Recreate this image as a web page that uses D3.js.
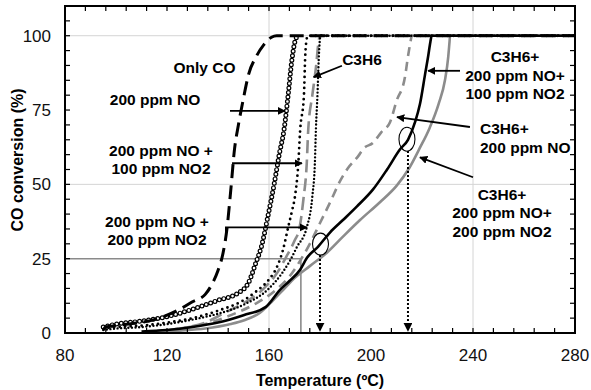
<!DOCTYPE html>
<html><head><meta charset="utf-8">
<script src="https://cdn.jsdelivr.net/npm/d3@7"></script>
<style>
body{margin:0;background:#fff;}
svg{display:block;font-family:"Liberation Sans",Arial,sans-serif;}
</style></head>
<body><svg id="c" width="591" height="390"></svg>
<script>
// ---- data (Temperature °C, CO conversion %) ----
const xTicks = [80,120,160,200,240,280];
const yTicks = [0,25,50,75,100];
const onlyCO = [[95,1],[96,2],[100,2.5],[105,3],[110,3.6],[115,4.5],[120,6],[125,8],[130,10.5],[135,13],[138,17],[140,21],[142,27],[143.5,35],[145,48],[146.5,62],[148,70],[150,79],[152,87],[155,93],[158,97],[161,99.5],[163,100],[280,100]];
const no200 = [[95,2],[100,3],[110,4],[120,5.5],[130,8],[140,11],[148,13.5],[152,17],[155,24],[157,29],[159.5,39],[162,50],[164,60],[166,69],[167.5,80],[169,92],[170.5,99],[171.5,100]];
const no200no2_100 = [[95,1.5],[100,2],[110,2.5],[120,3.5],[130,5],[140,7.5],[150,11],[155,14],[160,18],[163,22],[165.5,28],[167.5,35.5],[169,41],[170.2,46],[171.5,57],[172.2,68],[173.7,80],[174.2,93],[174.8,99],[175.2,100],[280,100]];
const c3h6 = [[115,0.5],[125,1.5],[135,3.5],[143,7],[150,10],[158,15],[163,20],[167,26],[170,31],[172,35.5],[173.5,45],[174.8,57],[175.4,68.6],[177,80],[178.5,90],[179.3,97],[180,100],[280,100]];
const no200no2_200 = [[95,1],[100,1.5],[110,2],[120,3],[130,4.5],[140,6.5],[150,9.5],[160,15],[165,20],[168,24],[171,29],[174.8,35.5],[177,46],[178,57.4],[178.4,68.6],[179,80],[179.5,92],[180.2,100],[280,100]];
const c3h6no = [[115,0.5],[125,1.5],[135,3],[145,6],[155,10],[162,14],[168,19],[172,24],[176,30],[180,37],[184,44],[187.8,51],[191,55.5],[195,59.5],[197,62],[200.8,64],[204,67.5],[207.5,71],[210,78],[213.3,86],[214.5,93],[215.5,98],[216,100],[280,100]];
const c3h6no_no2_100 = [[110,0.5],[120,1],[130,2],[140,3.5],[150,6],[158.8,8.8],[164.3,14.5],[168,17.5],[172.2,21.3],[174.9,25.3],[179.2,29],[183.9,33.8],[189,38],[194.5,42.6],[200.8,48.3],[206.3,55],[211.4,61.8],[214.5,65],[217.3,71],[219.2,77],[221.2,87],[222.4,93],[223.3,98],[223.8,100],[280,100]];
const c3h6no_no2_200 = [[115,0.3],[125,0.8],[135,1.5],[145,3],[150,4.2],[156.5,6.8],[161.6,11],[165,14],[169.4,18],[176,22.5],[182.7,27],[189,32.4],[195.7,38],[203.5,44],[210,49.5],[215,55.5],[219,62],[223,69],[226.5,77],[229,85],[230.3,93],[230.8,98],[231,100],[280,100]];

// ---- layout ----
const svg = d3.select("#c");
const m = {l:65, r:16, t:6, b:57};
const W = 591, H = 390;
const x = d3.scaleLinear().domain([80,280]).range([m.l, W-m.r]);
const y = d3.scaleLinear().domain([0,110]).range([H-m.b, m.t]);

const defs = svg.append("defs");
defs.append("marker").attr("id","ah").attr("viewBox","0 0 10 10").attr("refX",9).attr("refY",5)
  .attr("markerWidth",4.5).attr("markerHeight",4.5).attr("orient","auto")
  .append("path").attr("d","M0,0 L10,5 L0,10 z").attr("fill","#000");
defs.append("clipPath").attr("id","clip").append("rect")
  .attr("x",m.l).attr("y",m.t).attr("width",W-m.l-m.r).attr("height",H-m.t-m.b);

// gridlines
const g = svg.append("g");
[160,240].forEach(v=>g.append("line").attr("x1",x(v)).attr("x2",x(v)).attr("y1",y(0)).attr("y2",y(110)).attr("stroke","#d4d4d4").attr("stroke-width",1));
[50,100].forEach(v=>g.append("line").attr("x1",x(80)).attr("x2",x(280)).attr("y1",y(v)).attr("y2",y(v)).attr("stroke","#d4d4d4").attr("stroke-width",1));

// gray reference box at 25 %
g.append("path").attr("d",`M${x(80)},${y(25)}H${x(172.5)}V${y(0)}`).attr("fill","none").attr("stroke","#8a8a8a").attr("stroke-width",1.6);

// series
const line = d3.line().x(d=>x(d[0])).y(d=>y(d[1])).curve(d3.curveMonotoneX);
const plot = svg.append("g").attr("clip-path","url(#clip)");
function draw(data, stroke, w, dash, cap){
  plot.append("path").datum(data).attr("d",line).attr("fill","none").attr("stroke",stroke)
    .attr("stroke-width",w).attr("stroke-dasharray",dash||null).attr("stroke-linecap",cap||"butt");
}
draw(c3h6no_no2_200,"#8c8c8c",2.6);
draw(c3h6no,"#8c8c8c",2.6,"9,6");
draw(c3h6,"#8c8c8c",2.6,"13,6");
draw(no200no2_200,"#000",2.4,"0,3.6","round");
draw(no200no2_100,"#000",2.8,"0,5.5","round");
// open circles
draw(no200,"#000",5,"0,4.6","round");
draw(no200,"#fff",2.6,"0,4.6","round");
draw(c3h6no_no2_100,"#000",2.6);
draw(onlyCO,"#000",3,"14,7");

// frame + ticks
const fr = svg.append("g");
fr.append("rect").attr("x",m.l).attr("y",m.t).attr("width",W-m.l-m.r).attr("height",H-m.t-m.b)
  .attr("fill","none").attr("stroke","#000").attr("stroke-width",2);
for(let v=88; v<280; v+=8){
  fr.append("line").attr("x1",x(v)).attr("x2",x(v)).attr("y1",y(0)).attr("y2",y(0)-5).attr("stroke","#000").attr("stroke-width",1.2);
  fr.append("line").attr("x1",x(v)).attr("x2",x(v)).attr("y1",y(110)).attr("y2",y(110)+5).attr("stroke","#000").attr("stroke-width",1.2);
}
for(let v=5; v<110; v+=5){
  fr.append("line").attr("x1",x(80)).attr("x2",x(80)+5).attr("y1",y(v)).attr("y2",y(v)).attr("stroke","#000").attr("stroke-width",1.2);
  fr.append("line").attr("x1",x(280)).attr("x2",x(280)-5).attr("y1",y(v)).attr("y2",y(v)).attr("stroke","#000").attr("stroke-width",1.2);
}
// tick labels
xTicks.forEach(v=>fr.append("text").attr("x",x(v)).attr("y",361).attr("text-anchor","middle").attr("font-size",17).attr("fill","#111").text(v));
yTicks.forEach(v=>fr.append("text").attr("x",51).attr("y",y(v)+6).attr("text-anchor","end").attr("font-size",17).attr("fill","#111").text(v));
// axis titles
fr.append("text").attr("x",(m.l+W-m.r)/2).attr("y",386).attr("text-anchor","middle").attr("font-size",16).attr("font-weight","bold").text("Temperature (ºC)");
fr.append("text").attr("transform","translate(23,160) rotate(-90)").attr("text-anchor","middle").attr("font-size",16).attr("font-weight","bold").text("CO conversion (%)");

// annotations
const an = svg.append("g");
function arrow(pts, dashed){
  an.append("path").attr("d", d3.line()(pts.map(p=>[x(p[0]),y(p[1])]))).attr("fill","none")
    .attr("stroke","#000").attr("stroke-width",dashed?2:1.8).attr("stroke-dasharray",dashed?"2,2":null)
    .attr("marker-end","url(#ah)");
}
arrow([[144.7,74.7],[166.3,74.7]]);
arrow([[145.5,57.1],[172.9,57.1]]);
arrow([[143.1,31.1],[143.1,35.5],[174.9,35.5]]);
arrow([[188.6,89.9],[177.5,86.1]]);
arrow([[234.9,88.2],[222.4,88.2]]);
arrow([[238.8,69.3],[210.2,72.6]]);
arrow([[240,52.4],[219.2,59.1]]);
arrow([[180,26.2],[180,0.7]],true);
arrow([[214.5,61.2],[214.5,0.7]],true);
an.append("ellipse").attr("cx",x(180.2)).attr("cy",y(29.9)).attr("rx",8).attr("ry",11).attr("fill","none").attr("stroke","#000").attr("stroke-width",1.1);
an.append("ellipse").attr("cx",x(214.1)).attr("cy",y(65.2)).attr("rx",8).attr("ry",12).attr("fill","none").attr("stroke","#000").attr("stroke-width",1.1);

function label(lines, cx, by, anchor){
  const t = an.append("text").attr("font-size",15.5).attr("font-weight","bold").attr("text-anchor",anchor||"middle");
  lines.forEach((s,i)=>t.append("tspan").attr("x",cx).attr("y",by+i*18.5).text(s));
}
label(["Only CO"],204.5,73);
label(["200 ppm NO"],155,105);
label(["200 ppm NO +","100 ppm NO2"],161,155.5);
label(["200 ppm NO +","200 ppm NO2"],157,226.5);
label(["C3H6"],362,65);
label(["C3H6+","200 ppm NO+","100 ppm NO2"],515,62);
label(["C3H6+","200 ppm NO"],480,134,"start");
label(["C3H6+","200 ppm NO+","200 ppm NO2"],502,199.5);
</script></body></html>
